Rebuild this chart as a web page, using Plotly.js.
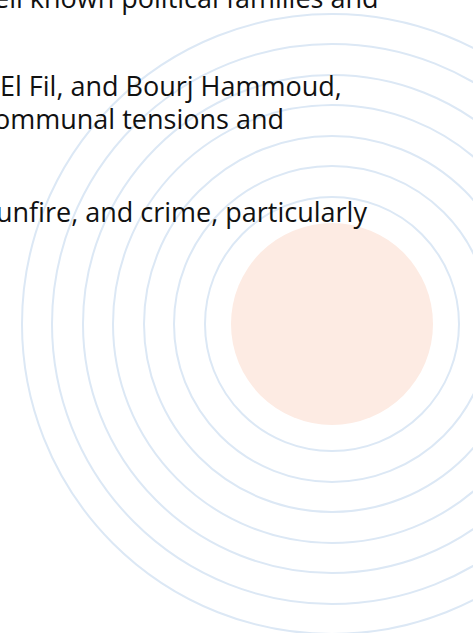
<!DOCTYPE html>
<html>
<head>
<meta charset="utf-8">
<script src="https://cdn.plot.ly/plotly-3.0.1.min.js"></script>
<style>
  html, body { margin: 0; padding: 0; background: #ffffff; overflow: hidden; }
  #chart { width: 473px; height: 633px; }
</style>
</head>
<body>
<div id="chart"></div>
<script>
// ---- data ----
const textLines = [
  "ell known political families and",
  "El Fil, and Bourj Hammoud,",
  "ommunal tensions and",
  "unfire, and crime, particularly"
];
const ringRadii = [127, 158, 188, 219, 249, 280, 310];
const coreRadius = [101];

// ---- layout constants ----
const W = 473, H = 633;
const CX = 332, CY = 324;
const textRightX = [380, 343, 285, 368];
const textBaseY = [8, 96, 129, 222];
const FONT_SIZE = 27;

const shapes = [];
coreRadius.forEach(r => {
  shapes.push({
    type: 'circle', xref: 'x', yref: 'y', layer: 'below',
    x0: CX - r, x1: CX + r, y0: CY - r, y1: CY + r,
    fillcolor: '#fdebe3', line: { width: 0 }
  });
});
ringRadii.forEach(r => {
  shapes.push({
    type: 'circle', xref: 'x', yref: 'y', layer: 'below',
    x0: CX - r, x1: CX + r, y0: CY - r, y1: CY + r,
    fillcolor: 'rgba(0,0,0,0)', line: { color: '#dce8f5', width: 2 }
  });
});

const annotations = textLines.map((t, i) => ({
  text: t,
  xref: 'paper', yref: 'paper',
  x: textRightX[i] / W,
  y: 1 - (textBaseY[i] - 0.39 * FONT_SIZE) / H,
  xanchor: 'right', yanchor: 'middle',
  showarrow: false,
  borderpad: 0,
  font: { family: 'Open Sans, sans-serif', size: FONT_SIZE, color: '#111111' }
}));

const layout = {
  width: W, height: H,
  margin: { l: 0, r: 0, t: 0, b: 0, pad: 0 },
  paper_bgcolor: '#ffffff', plot_bgcolor: '#ffffff',
  showlegend: false,
  xaxis: { range: [0, W], visible: false, fixedrange: true },
  yaxis: { range: [H, 0], visible: false, fixedrange: true },
  shapes: shapes,
  annotations: annotations
};

Plotly.newPlot('chart', [{ x: [], y: [], type: 'scatter', mode: 'markers', hoverinfo: 'skip' }], layout, { displayModeBar: false, staticPlot: true });
</script>
</body>
</html>
